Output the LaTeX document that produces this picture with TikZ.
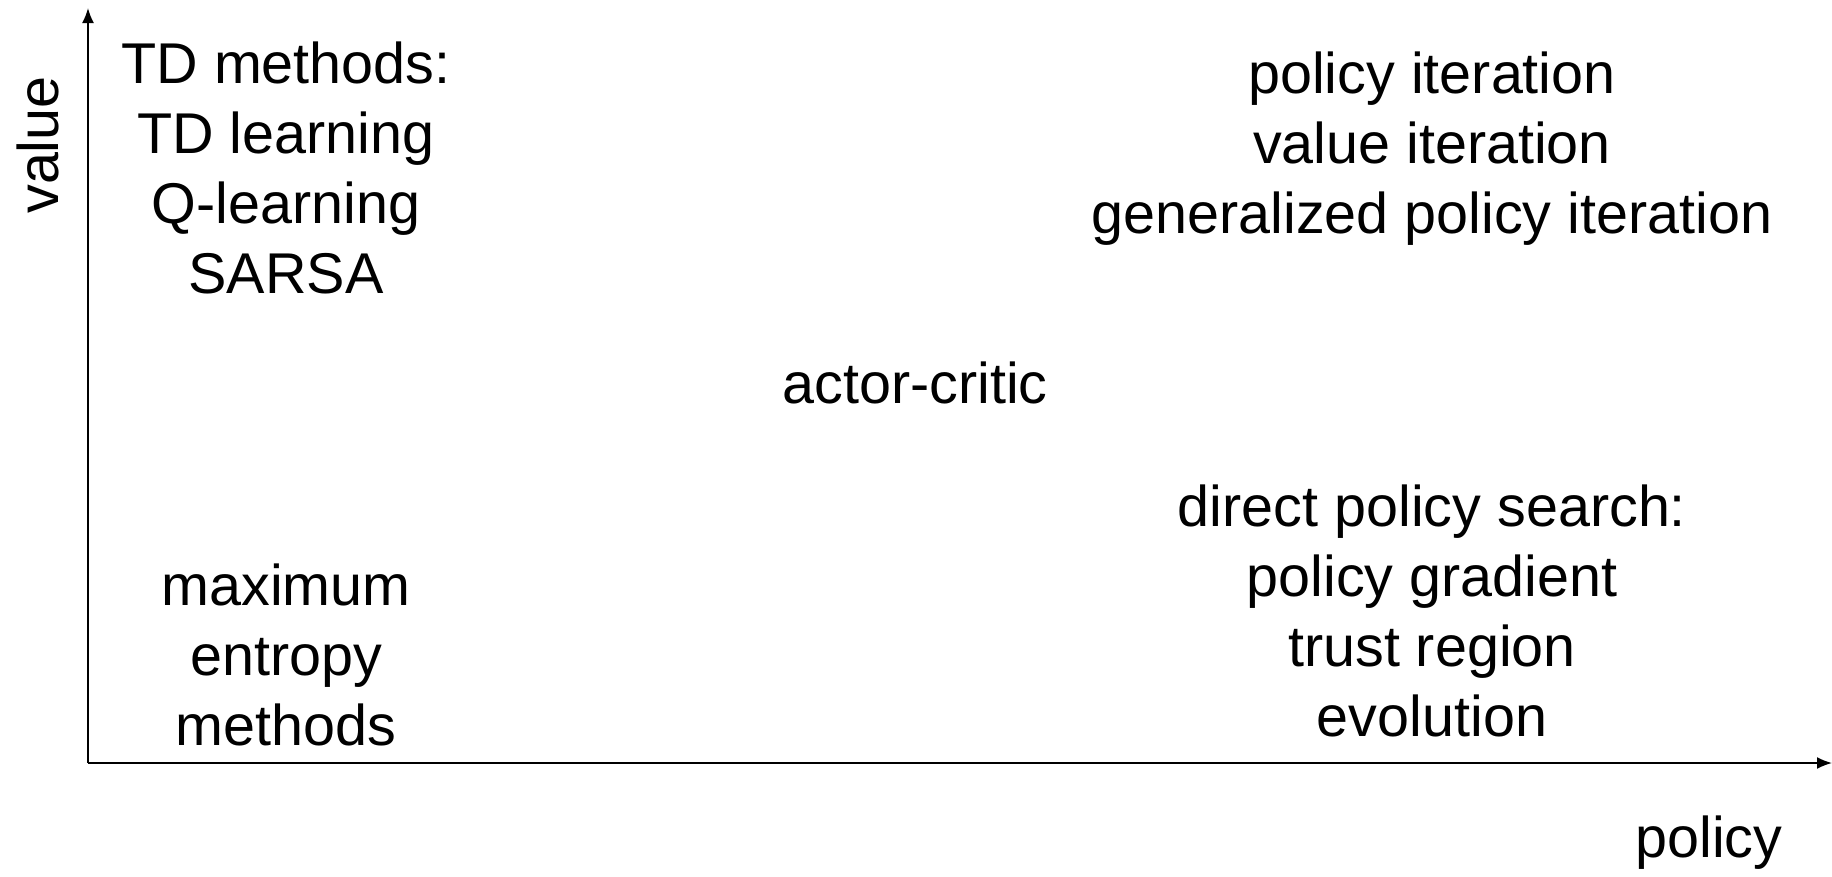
\documentclass[tikz,border=0pt]{standalone}
\usepackage{fontspec}
\setmainfont{Liberation Sans}
\usetikzlibrary{arrows.meta}
\tikzset{
  lbl/.style={font=\fontsize{57.5}{70}\selectfont, anchor=base, inner sep=0pt},
  axis/.style={line width=1.8pt, -{Latex[length=15pt,width=12pt]}}
}
\begin{document}
\begin{tikzpicture}[x=1pt,y=-1pt]
\useasboundingbox (0,0) rectangle (1832,876);
\coordinate (origin) at (88,763);
\coordinate (ytop) at (88,8);
\coordinate (xend) at (1832,763);
\draw[axis] (origin) -- (ytop);
\draw[axis] (origin) -- (xend);
% axis labels
\node[lbl, rotate=90] (val) at (58,145) {value};
\node[lbl] (pol) at (1709,857) {policy};
% TD methods
\node[lbl] (td1) at (286,83) {TD methods:};
\node[lbl] (td2) at (286,153) {TD learning};
\node[lbl] (td3) at (286,223) {Q-learning};
\node[lbl] (td4) at (286,293) {SARSA};
% policy / value iteration
\node[lbl] (pi1) at (1432,93) {policy iteration};
\node[lbl] (pi2) at (1432,163) {value iteration};
\node[lbl] (pi3) at (1432,233) {generalized policy iteration};
% actor-critic
\node[lbl] (ac) at (915,403) {actor-critic};
% direct policy search
\node[lbl] (dp1) at (1432,526) {direct policy search:};
\node[lbl] (dp2) at (1432,596) {policy gradient};
\node[lbl] (dp3) at (1432,666) {trust region};
\node[lbl] (dp4) at (1432,736) {evolution};
% maximum entropy
\node[lbl] (me1) at (286,605) {maximum};
\node[lbl] (me2) at (286,675) {entropy};
\node[lbl] (me3) at (286,745) {methods};
\end{tikzpicture}
\end{document}
